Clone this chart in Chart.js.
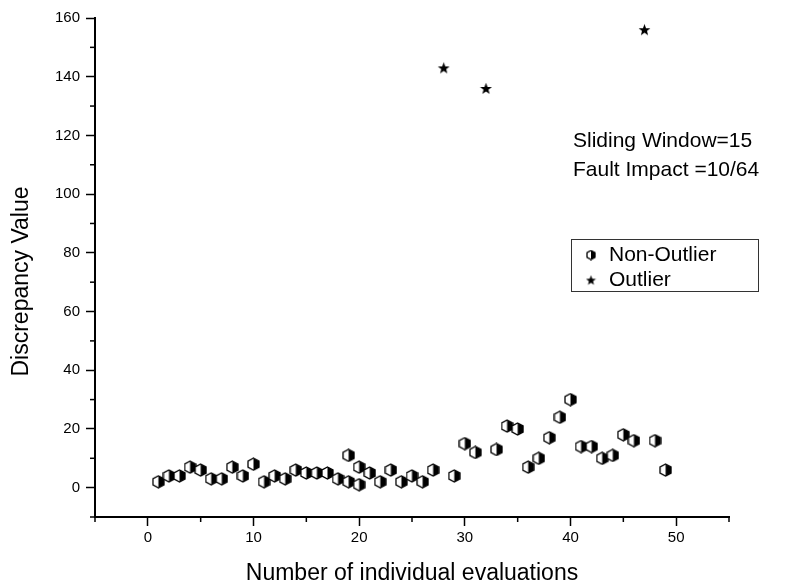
<!DOCTYPE html>
<html><head><meta charset="utf-8">
<script src="https://cdn.jsdelivr.net/npm/chart.js@4/dist/chart.umd.min.js"></script>
<style>html,body{margin:0;padding:0;background:#fff}#wrap{width:786px;height:587px;position:relative}</style>
</head><body><div id="wrap"><canvas id="c"></canvas></div>
<script>
const nonOutlierX = [1,2,3,4,5,6,7,8,9,10,11,12,13,14,15,16,17,18,19,19,20,20,21,22,23,24,25,26,27,29,30,31,33,34,35,36,37,38,39,40,41,42,43,44,45,46,48,49];
const nonOutlierY = [2,4,4,7,6,3,3,7,4,8,2,4,3,6,5,5,5,3,11,2,7,1,5,2,6,2,4,2,6,4,15,12,13,21,20,7,10,17,24,30,14,14,10,11,18,16,16,6];
const outlierX = [28,32,47];
const outlierY = [143,136,156];
const xTickLabels = [0,10,20,30,40,50];
const yTickLabels = [0,20,40,60,80,100,120,140,160];
const legendLabels = ['Non-Outlier','Outlier'];
const annotationLines = ['Sliding Window=15','Fault Impact =10/64'];
const yTitle = 'Discrepancy Value';
const xTitle = 'Number of individual evaluations';
const FONT = "'Liberation Sans', Arial, sans-serif";

function makeHex(w, h) {
  const c = document.createElement('canvas'); c.width = w; c.height = h;
  const g = c.getContext('2d');
  const cx = w / 2, cy = h / 2, rx = w / 2 - 1, ry = h / 2 - 1;
  const pts = [[cx, cy - ry], [cx + rx, cy - ry / 2], [cx + rx, cy + ry / 2], [cx, cy + ry], [cx - rx, cy + ry / 2], [cx - rx, cy - ry / 2]];
  g.beginPath(); pts.forEach((p, i) => i ? g.lineTo(p[0], p[1]) : g.moveTo(p[0], p[1])); g.closePath();
  g.fillStyle = '#fff'; g.fill();
  g.beginPath(); g.moveTo(cx, cy - ry); g.lineTo(cx + rx, cy - ry / 2); g.lineTo(cx + rx, cy + ry / 2); g.lineTo(cx, cy + ry); g.closePath();
  g.fillStyle = '#000'; g.fill();
  g.beginPath(); pts.forEach((p, i) => i ? g.lineTo(p[0], p[1]) : g.moveTo(p[0], p[1])); g.closePath();
  g.lineWidth = 1.3; g.strokeStyle = '#000'; g.stroke();
  return c;
}
function makeStar(s) {
  const c = document.createElement('canvas'); c.width = s; c.height = s;
  const g = c.getContext('2d');
  const cx = s / 2, cy = s / 2 + 0.5, R = s / 2 - 0.3, r = R * 0.42;
  g.beginPath();
  for (let i = 0; i < 10; i++) {
    const a = -Math.PI / 2 + i * Math.PI / 5, rr = i % 2 ? r : R;
    const x = cx + rr * Math.cos(a), y = cy + rr * Math.sin(a);
    i ? g.lineTo(x, y) : g.moveTo(x, y);
  }
  g.closePath(); g.fillStyle = '#000'; g.fill();
  return c;
}
const hexImg = makeHex(13, 14), hexSmall = makeHex(10, 11);
const starImg = makeStar(13), starSmall = makeStar(11);

const extras = {
  id: 'extras',
  afterDraw(chart) {
    const ctx = chart.ctx, xs = chart.scales.x, ys = chart.scales.y, ca = chart.chartArea;
    ctx.save();
    ctx.strokeStyle = '#000'; ctx.lineWidth = 1.5;
    xs.ticks.forEach(t => { if (!xTickLabels.includes(t.value)) { const p = xs.getPixelForValue(t.value); ctx.beginPath(); ctx.moveTo(p, ca.bottom); ctx.lineTo(p, ca.bottom + 5); ctx.stroke(); } });
    ys.ticks.forEach(t => { if (!yTickLabels.includes(t.value)) { const p = ys.getPixelForValue(t.value); ctx.beginPath(); ctx.moveTo(ca.left, p); ctx.lineTo(ca.left - 5, p); ctx.stroke(); } });
    ctx.fillStyle = '#000'; ctx.textBaseline = 'middle';
    // y-axis title
    ctx.save();
    ctx.translate(22, (ca.top + ca.bottom) / 2 + 14);
    ctx.rotate(-Math.PI / 2);
    ctx.textAlign = 'center'; ctx.font = '23px ' + FONT;
    ctx.fillText(yTitle, 0, 0);
    ctx.restore();
    // annotation
    ctx.font = '21px ' + FONT; ctx.textAlign = 'left';
    ctx.fillText(annotationLines[0], 573, 141);
    ctx.fillText(annotationLines[1], 573, 170);
    // legend
    ctx.lineWidth = 1; ctx.strokeStyle = '#333';
    ctx.strokeRect(571.5, 239.5, 187, 52);
    ctx.drawImage(hexSmall, 591 - 5, 255 - 5.5);
    ctx.drawImage(starSmall, 591 - 5.5, 280 - 5.5);
    ctx.font = '21px ' + FONT;
    ctx.fillText(legendLabels[0], 609, 255);
    ctx.fillText(legendLabels[1], 609, 280);
    ctx.restore();
  }
};

new Chart(document.getElementById('c'), {
  type: 'scatter',
  data: {
    datasets: [
      { label: legendLabels[0], data: nonOutlierX.map((x, i) => ({ x, y: nonOutlierY[i] })), pointStyle: hexImg, pointRadius: 6, pointHoverRadius: 6 },
      { label: legendLabels[1], data: outlierX.map((x, i) => ({ x, y: outlierY[i] })), pointStyle: starImg, pointRadius: 6, pointHoverRadius: 6 }
    ]
  },
  options: {
    responsive: true, maintainAspectRatio: false, animation: false,
    layout: { padding: { top: 18, right: 57, bottom: 0, left: 0 } },
    plugins: { legend: { display: false }, tooltip: { enabled: false } },
    scales: {
      x: {
        type: 'linear', min: -5, max: 55,
        afterFit: s => { s.height = 70; },
        border: { color: '#000', width: 2 },
        grid: { drawOnChartArea: false, tickLength: 9, tickWidth: 1.5, tickColor: c => xTickLabels.includes(c.tick && c.tick.value) ? '#000' : 'rgba(0,0,0,0)' },
        ticks: { stepSize: 5, autoSkip: false, maxRotation: 0, padding: 3, color: '#000', font: { family: FONT, size: 15 }, callback: v => xTickLabels.includes(v) ? String(v) : '' },
        title: { display: true, text: xTitle, color: '#000', font: { family: FONT, size: 23 }, padding: { top: 0, bottom: 0 } }
      },
      y: {
        type: 'linear', min: -10, max: 160,
        afterFit: s => { s.width = 95; },
        border: { color: '#000', width: 2 },
        grid: { drawOnChartArea: false, tickLength: 9, tickWidth: 1.5, tickColor: c => yTickLabels.includes(c.tick && c.tick.value) ? '#000' : 'rgba(0,0,0,0)' },
        ticks: { stepSize: 10, autoSkip: false, padding: 6, color: '#000', font: { family: FONT, size: 15 }, callback: v => yTickLabels.includes(v) ? String(v) : '' },
        title: { display: false }
      }
    }
  },
  plugins: [extras]
});
</script></body></html>
